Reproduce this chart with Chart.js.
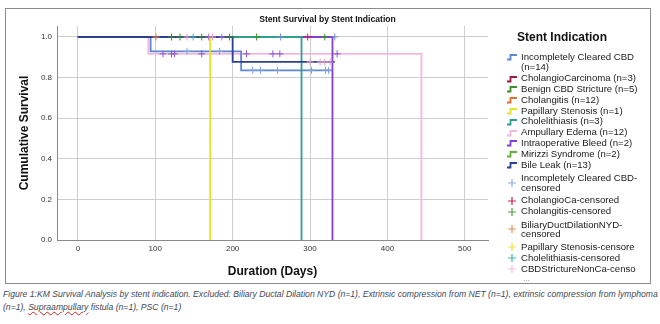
<!DOCTYPE html>
<html>
<head>
<meta charset="utf-8">
<script src="https://cdn.jsdelivr.net/npm/chart.js@4.4.1/dist/chart.umd.min.js"></script>
<style>
  body { margin: 0; background: #fff; width: 660px; height: 324px; overflow: hidden; font-family: "Liberation Sans", Arial, sans-serif; }
  #frame { position: absolute; left: 5px; top: 8px; width: 646px; height: 276px; border: 1px solid #8c8c8c; box-sizing: border-box; }
  #chart { position: absolute; left: 5px; top: 8px; }
  #legendTitle { position: absolute; left: 517px; top: 30px; font-size: 12px; line-height: 14px; font-weight: bold; color: #111; }
  #legend { position: absolute; left: 507px; top: 51.6px; font-size: 9.6px; color: #1a1a1a; }
  .row { display: flex; align-items: flex-start; line-height: 10.8px; white-space: pre; }
  .row svg { flex: none; margin-top: 1.4px; margin-right: 4px; }
  .row.two { line-height: 9.5px; margin: 3px 0; align-items: center; }
  .row.two svg { margin-top: 0; }
  .more { color: #888; font-size: 8px; line-height: 10px; margin-left: 16px; }
  #caption { position: absolute; left: 3px; top: 288px; font-size: 8.62px; line-height: 13px; font-style: italic; color: #3f4756; white-space: nowrap; }
  #caption .sp { text-decoration: underline wavy #d02020; text-decoration-thickness: 1px; }
</style>
</head>
<body>
<div id="frame"></div>
<canvas id="chart" width="645" height="276"></canvas>
<div id="legendTitle">Stent Indication</div>
<div id="legend"></div>
<div id="caption">Figure 1:KM Survival Analysis by stent indication. Excluded: Biliary Ductal Dilation NYD (n=1), Extrinsic compression from NET (n=1), extrinsic compression from lymphoma<br>(n=1), <span class="sp">Supraampullary</span> fistula (n=1), PSC (n=1)</div>
<script>
// axis ticks
const xTicks = [0, 100, 200, 300, 400, 500];
const yTicks = [0, 0.2, 0.4, 0.6, 0.8, 1.0];

// KM curves: day of each step and survival after it
const incCbdDays = [0, 94, 211, 328];
const incCbdSurv = [1, 0.929, 0.836, 0.836];
const cholCaDays = [0, 297];
const cholCaSurv = [1, 1];
const benignDays = [0, 325];
const benignSurv = [1, 1];
const cholangitisDays = [0, 319];
const cholangitisSurv = [1, 1];
const papillaryDays = [0, 171];
const papillarySurv = [1, 0];
const cholelithDays = [0, 289];
const cholelithSurv = [1, 0];
const edemaDays = [0, 91, 444];
const edemaSurv = [1, 0.917, 0];
const bleedDays = [0, 329];
const bleedSurv = [1, 0];
const mirizziDays = [0, 332];
const mirizziSurv = [1, 1];
const bileLeakDays = [0, 200, 332];
const bileLeakSurv = [1, 0.877, 0.877];

// censored times (days)
const censIncCbd = [141, 183, 226, 236, 258, 302, 320, 324];
const censCholCa = [297];
const censCholangitis = [121, 132, 160, 196, 231, 319];
const censBiliary = [101];
const censCholelith = [149];
const censBileLeak = [141, 174, 300, 313, 319, 326];
const censEdema = [110, 121, 125, 160, 218, 252, 261, 335];
const censBleed = [169, 186];
const censMirizzi = [262, 332];

const lineNames = ["Incompletely Cleared CBD\n(n=14)", "CholangioCarcinoma (n=3)", "Benign CBD Stricture (n=5)",
  "Cholangitis (n=12)", "Papillary Stenosis (n=1)", "Cholelithiasis (n=3)", "Ampullary Edema (n=12)",
  "Intraoperative Bleed (n=2)", "Mirizzi Syndrome (n=2)", "Bile Leak (n=13)"];
const lineColors = ["#5a87d0", "#9a1a40", "#3d8f2e", "#e07030", "#e4e22a", "#2fa090", "#f2b8e0", "#8040d8", "#62b236", "#2c3f92"];
const censNames = ["Incompletely Cleared CBD-\ncensored", "CholangioCa-censored", "Cholangitis-censored",
  "BiliaryDuctDilationNYD-\ncensored", "Papillary Stenosis-censore", "Cholelithiasis-censored", "CBDStrictureNonCa-censo"];
const censColors = ["#8fb0e8", "#c02060", "#4f9f3f", "#e89050", "#e6e040", "#40b8a8", "#f0c0e0"];

function pts(days, surv) {
  return days.map((d, i) => ({ x: d, y: surv[i] }));
}
function survAt(days, surv, t) {
  let s = surv[0];
  for (let i = 0; i < days.length; i++) if (days[i] <= t) s = surv[i];
  return s;
}
function cens(times, days, surv) {
  return times.map(t => ({ x: t, y: survAt(days, surv, t) }));
}

function curve(i, days, surv, order) {
  return { type: "line", label: lineNames[i], data: pts(days, surv), borderColor: lineColors[i],
    borderWidth: 1.8, stepped: true, pointRadius: 0, fill: false, order: order };
}
function marks(data, color) {
  return { type: "scatter", data: data, pointStyle: "cross", pointRadius: 3.5, borderColor: color,
    borderWidth: 1, order: 0 };
}

const datasets = [
  curve(9, bileLeakDays, bileLeakSurv, 1),
  curve(4, papillaryDays, papillarySurv, 2),
  curve(5, cholelithDays, cholelithSurv, 3),
  curve(7, bleedDays, bleedSurv, 4),
  curve(8, mirizziDays, mirizziSurv, 5),
  curve(2, benignDays, benignSurv, 6),
  curve(1, cholCaDays, cholCaSurv, 7),
  curve(3, cholangitisDays, cholangitisSurv, 8),
  curve(0, incCbdDays, incCbdSurv, 9),
  curve(6, edemaDays, edemaSurv, 10),
  marks(cens(censIncCbd, incCbdDays, incCbdSurv), "#7fa0e0"),
  marks(cens(censCholCa, cholCaDays, cholCaSurv), "#c8204a"),
  marks(cens(censCholangitis, benignDays, benignSurv), "#3f8f2e"),
  marks(cens(censBiliary, cholangitisDays, cholangitisSurv), "#e08050"),
  marks(cens(censCholelith, cholelithDays, cholelithSurv), "#40b8a8"),
  marks(cens(censBileLeak, bileLeakDays, bileLeakSurv), "#e8a0cc"),
  marks(cens(censEdema, edemaDays, edemaSurv), "#9050d8"),
  marks(cens(censBleed, bleedDays, bleedSurv), "#b070d0"),
  marks(cens(censMirizzi, mirizziDays, mirizziSurv), "#6f8fd0"),
];

const gridColor = "#cdcdcd";
const axisColor = "#8a8a8a";
const tickFont = { family: "Liberation Sans", size: 8 };

new Chart(document.getElementById("chart"), {
  type: "line",
  data: { datasets: datasets },
  options: {
    responsive: false,
    animation: false,
    devicePixelRatio: 1,
    layout: { padding: 0 },
    plugins: {
      legend: { display: false },
      tooltip: { enabled: false },
      title: {
        display: true,
        text: "Stent Survival by Stent Indication",
        color: "#111",
        font: { family: "Liberation Sans", size: 8.6, weight: "bold" },
        padding: { top: 6, bottom: 1.7 },
      },
    },
    scales: {
      x: {
        type: "linear",
        min: -27,
        max: 530,
        afterBuildTicks: (s) => { s.ticks = xTicks.map(v => ({ value: v })); },
        afterFit: (s) => { s.height = 44; },
        grid: { color: gridColor, drawTicks: false },
        border: { color: axisColor },
        ticks: { font: tickFont, color: "#333", padding: 4 },
        title: { display: true, text: "Duration (Days)", color: "#111",
          font: { family: "Liberation Sans", size: 12, weight: "bold" }, padding: { top: 0, bottom: 5 } },
      },
      y: {
        min: 0,
        max: 1.054,
        afterBuildTicks: (s) => { s.ticks = yTicks.map(v => ({ value: v })); },
        afterFit: (s) => { s.width = 52; },
        grid: { color: gridColor, drawTicks: false },
        border: { color: axisColor },
        ticks: { font: tickFont, color: "#333", padding: 5, callback: (v) => v.toFixed(1) },
        title: { display: true, text: "Cumulative Survival", color: "#111",
          font: { family: "Liberation Sans", size: 12, weight: "bold" }, padding: { top: 12, bottom: 0 } },
      },
      side: {
        type: "linear",
        position: "right",
        grid: { display: false },
        border: { display: false },
        ticks: { display: false },
        afterFit: (s) => { s.width = 162; },
      },
    },
  },
});

// legend
const legend = document.getElementById("legend");
function lineIcon(c) {
  return `<svg width="10" height="8"><path d="M0 6.5H3.5V2H10" stroke="${c}" stroke-width="1.8" fill="none"/></svg>`;
}
function crossIcon(c) {
  return `<svg width="10" height="8"><path d="M1 4H9M5 0V8" stroke="${c}" stroke-width="1.2"/></svg>`;
}
lineNames.forEach((n, i) => {
  const r = document.createElement("div");
  r.className = "row";
  r.innerHTML = lineIcon(lineColors[i]) + "<span></span>";
  r.querySelector("span").textContent = n;
  legend.appendChild(r);
});
censNames.forEach((n, i) => {
  const r = document.createElement("div");
  r.className = n.includes("\n") ? "row two" : "row";
  r.innerHTML = crossIcon(censColors[i]) + "<span></span>";
  r.querySelector("span").textContent = n;
  legend.appendChild(r);
});
const more = document.createElement("div");
more.className = "more";
more.textContent = "...";
legend.appendChild(more);
</script>
</body>
</html>
